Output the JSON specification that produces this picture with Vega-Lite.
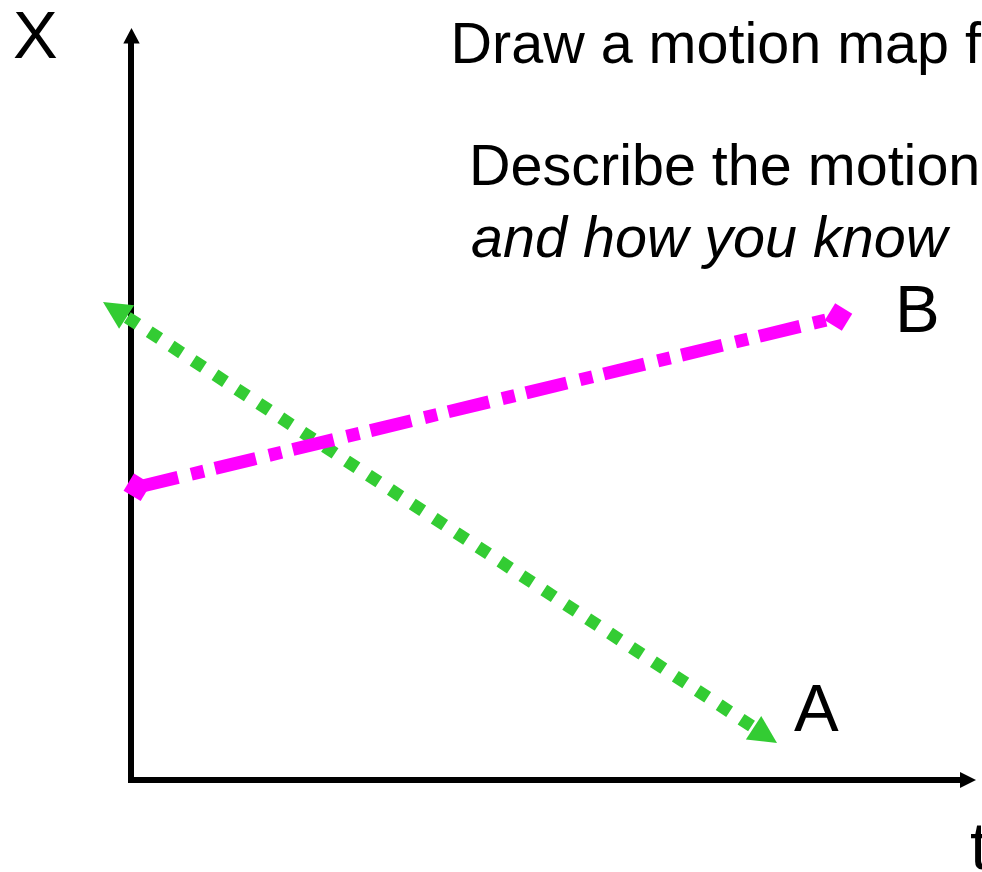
{
  "$schema": "https://vega.github.io/schema/vega-lite/v6.json",
  "width": 982,
  "height": 872,
  "padding": 0,
  "autosize": {"type": "none"},
  "background": "white",
  "config": {"view": {"stroke": null}},
  "datasets": {
    "axes": [
      {"axis": "X", "t": 0.0, "X": -0.03, "t2": 0.0, "X2": 7.37},
      {"axis": "t", "t": -0.03, "X": 0.0, "t2": 8.31, "X2": 0.0}
    ],
    "axisTips": [
      {"axis": "X", "t": 0.005, "X": 7.52},
      {"axis": "t", "t": 8.45, "X": 0.0}
    ],
    "motionA": [
      {"t": -0.037, "X": 4.626},
      {"t": 6.22, "X": 0.53}
    ],
    "tipsA": [
      {"end": "start", "t": -0.28, "X": 4.78},
      {"end": "finish", "t": 6.46, "X": 0.37}
    ],
    "motionB": [
      {"t": 0.063, "X": 2.927},
      {"t": 7.075, "X": 4.63}
    ],
    "letters": [
      {"label": "X", "t": -1.18, "X": 7.22},
      {"label": "t", "t": 8.39, "X": -0.89},
      {"label": "A", "t": 6.63, "X": 0.49},
      {"label": "B", "t": 7.64, "X": 4.48}
    ],
    "prompts": [
      {"line": "Draw a motion map for each object.", "t": 3.195, "X": 7.167},
      {"line": "Describe the motion of each object", "t": 3.38, "X": 5.95}
    ],
    "promptItalic": [
      {"line": "and how you know", "t": 3.4, "X": 5.233}
    ]
  },
  "encoding": {
    "x": {"field": "t", "type": "quantitative", "scale": {"domain": [-1.31, 8.51], "nice": false, "zero": false}, "axis": null},
    "y": {"field": "X", "type": "quantitative", "scale": {"domain": [-0.92, 7.8], "nice": false, "zero": false}, "axis": null}
  },
  "layer": [
    {
      "data": {"name": "axes"},
      "mark": {"type": "rule", "strokeWidth": 6, "color": "black", "strokeCap": "butt"},
      "encoding": {"x2": {"field": "t2"}, "y2": {"field": "X2"}}
    },
    {
      "data": {"name": "axisTips"},
      "transform": [{"filter": "datum.axis === 'X'"}],
      "mark": {"type": "point", "shape": "M0,0L-1,1.875L1,1.875Z", "size": 270, "filled": true, "opacity": 1, "color": "black", "strokeWidth": 0}
    },
    {
      "data": {"name": "axisTips"},
      "transform": [{"filter": "datum.axis === 't'"}],
      "mark": {"type": "point", "shape": "M0,0L-2,-1L-2,1Z", "size": 256, "filled": true, "opacity": 1, "color": "black", "strokeWidth": 0}
    },
    {
      "data": {"name": "motionA"},
      "mark": {"type": "line", "color": "#33CC33", "strokeWidth": 12.5, "strokeDash": [12.5, 13.7], "strokeCap": "butt"}
    },
    {
      "data": {"name": "tipsA"},
      "transform": [{"filter": "datum.end === 'start'"}],
      "mark": {"type": "point", "shape": "M0,0L-1,2L1,2Z", "size": 784, "angle": -57.5, "filled": true, "opacity": 1, "color": "#33CC33", "strokeWidth": 0}
    },
    {
      "data": {"name": "tipsA"},
      "transform": [{"filter": "datum.end === 'finish'"}],
      "mark": {"type": "point", "shape": "M0,0L-1,2L1,2Z", "size": 784, "angle": 123.2, "filled": true, "opacity": 1, "color": "#33CC33", "strokeWidth": 0}
    },
    {
      "data": {"name": "motionB"},
      "mark": {"type": "line", "color": "#FF00FF", "strokeWidth": 13, "strokeDash": [42, 13.5, 13, 11.5], "strokeCap": "butt"}
    },
    {
      "data": {"name": "motionB"},
      "mark": {"type": "point", "shape": "diamond", "size": 800, "angle": -13.6, "filled": true, "opacity": 1, "color": "#FF00FF", "strokeWidth": 0}
    },
    {
      "data": {"name": "letters"},
      "mark": {"type": "text", "font": "Liberation Sans", "fontSize": 67, "align": "left", "baseline": "alphabetic", "color": "black", "clip": true},
      "encoding": {"text": {"field": "label"}}
    },
    {
      "data": {"name": "prompts"},
      "mark": {"type": "text", "font": "Liberation Sans", "fontSize": 57.5, "align": "left", "baseline": "alphabetic", "color": "black", "clip": true},
      "encoding": {"text": {"field": "line"}}
    },
    {
      "data": {"name": "promptItalic"},
      "mark": {"type": "text", "font": "Liberation Sans", "fontSize": 57.5, "fontStyle": "italic", "align": "left", "baseline": "alphabetic", "color": "black", "clip": true},
      "encoding": {"text": {"field": "line"}}
    }
  ]
}
